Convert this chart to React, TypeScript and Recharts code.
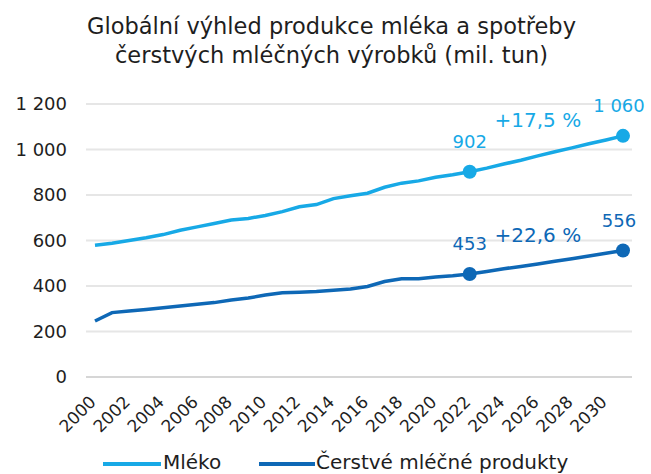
import React from "react";
import {
  LineChart,
  Line,
  XAxis,
  YAxis,
  CartesianGrid,
  ReferenceDot,
  LabelList,
} from "recharts";

// years 2000-2031 (labels shown every 2nd year)
const years = [
  "2000", "2001", "2002", "2003", "2004", "2005", "2006", "2007",
  "2008", "2009", "2010", "2011", "2012", "2013", "2014", "2015",
  "2016", "2017", "2018", "2019", "2020", "2021", "2022", "2023",
  "2024", "2025", "2026", "2027", "2028", "2029", "2030", "2031",
];

const milk = [
  579, 588, 600, 612, 626, 645, 660, 675,
  690, 697, 710, 727, 748, 758, 784, 797,
  808, 834, 852, 862, 878, 889, 902, 918,
  936, 953, 972, 990, 1007, 1025, 1042, 1060,
];

const freshDairy = [
  246, 283, 290, 297, 304, 312, 320, 327,
  338, 347, 360, 370, 373, 376, 381, 387,
  398, 420, 432, 432, 440, 445, 453, 464,
  476, 486, 497, 509, 520, 532, 544, 556,
];

const yTicks = [0, 200, 400, 600, 800, 1000, 1200];
const markedIdx = [22, 31];

const milkColor = "#17a9e6";
const dairyColor = "#0e68b6";
const textColor = "#1e1e1e";
const font = "'DejaVu Sans', sans-serif";

const data = years.map((y, i) => ({ year: y, milk: milk[i], dairy: freshDairy[i] }));

const fmt = (v: number) =>
  v >= 1000 ? `${Math.floor(v / 1000)} ${String(v % 1000).padStart(3, "0")}` : String(v);

const makeDot = (color: string) => (props: any) => {
  const { cx, cy, index } = props;
  if (!markedIdx.includes(index)) return <g key={index} />;
  return <circle key={index} cx={cx} cy={cy} r={7} fill={color} />;
};

const makeLabel = (color: string) => (props: any) => {
  const { x, y, index, value } = props;
  if (!markedIdx.includes(index)) return null;
  // last label sits a little left so it stays inside the picture
  const dx = index === years.length - 1 ? -4 : 0;
  return (
    <text x={x + dx} y={y - 24} textAnchor="middle" fill={color} fontSize={18} fontFamily={font}>
      {fmt(value)}
    </text>
  );
};

const pctShape = (label: string, color: string) => (props: any) => (
  <text
    x={props.cx}
    y={props.cy}
    textAnchor="middle"
    fill={color}
    fontSize={20}
    fontWeight={500}
    fontFamily={font}
  >
    {label}
  </text>
);

const XTick = (props: any) => {
  const { x, y, payload } = props;
  const ax = x + 2;
  const ay = y + 18;
  return (
    <text
      x={ax}
      y={ay}
      transform={`rotate(-45, ${ax}, ${ay})`}
      textAnchor="end"
      fill={textColor}
      fontSize={17}
      fontFamily={font}
    >
      {payload.value}
    </text>
  );
};

export default function App() {
  return (
    <div style={{ position: "absolute", left: 0, top: 0, width: 651, height: 474, background: "#fff" }}>
      <div
        style={{
          position: "absolute",
          left: 0,
          top: 12,
          width: 663,
          textAlign: "center",
          fontFamily: font,
          fontSize: 22.5,
          lineHeight: "29px",
          color: textColor,
        }}
      >
        Globální výhled produkce mléka a spotřeby
        <br />
        čerstvých mléčných výrobků (mil. tun)
      </div>
      <div style={{ position: "absolute", left: 0, top: 0 }}>
        <LineChart
          width={651}
          height={474}
          data={data}
          margin={{ top: 104, right: 19, bottom: 67, left: 0 }}
        >
          <CartesianGrid vertical={false} stroke="#e6e6e6" strokeWidth={2} />
          <XAxis
            dataKey="year"
            interval={1}
            padding={{ left: 9, right: 9 }}
            tickLine={false}
            axisLine={{ stroke: "#d6d6d6", strokeWidth: 2 }}
            tick={<XTick />}
            height={30}
          />
          <YAxis
            width={86}
            domain={[0, 1200]}
            ticks={yTicks}
            tickFormatter={fmt}
            axisLine={false}
            tickLine={false}
            tickMargin={13}
            tick={{ fontSize: 18, fill: textColor, fontFamily: font }}
          />
          <Line
            type="linear"
            dataKey="milk"
            stroke={milkColor}
            strokeWidth={3.5}
            dot={makeDot(milkColor)}
            activeDot={false}
            isAnimationActive={false}
          >
            <LabelList dataKey="milk" content={makeLabel(milkColor)} />
          </Line>
          <Line
            type="linear"
            dataKey="dairy"
            stroke={dairyColor}
            strokeWidth={3.5}
            dot={makeDot(dairyColor)}
            activeDot={false}
            isAnimationActive={false}
          >
            <LabelList dataKey="dairy" content={makeLabel(dairyColor)} />
          </Line>
          <ReferenceDot x="2026" y={1099} r={0} shape={pctShape("+17,5 %", milkColor)} />
          <ReferenceDot x="2026" y={593} r={0} shape={pctShape("+22,6 %", dairyColor)} />
        </LineChart>
      </div>
      <div
        style={{
          position: "absolute",
          left: 0,
          top: 450,
          width: 651,
          height: 24,
          fontFamily: font,
          fontSize: 20,
          color: textColor,
        }}
      >
        <div style={{ position: "absolute", left: 103, top: 12, width: 58, height: 4, background: milkColor }} />
        <div style={{ position: "absolute", left: 163, top: 0, lineHeight: "24px" }}>Mléko</div>
        <div style={{ position: "absolute", left: 259, top: 12, width: 56, height: 4, background: dairyColor }} />
        <div style={{ position: "absolute", left: 316, top: 0, lineHeight: "24px" }}>Čerstvé mléčné produkty</div>
      </div>
    </div>
  );
}
